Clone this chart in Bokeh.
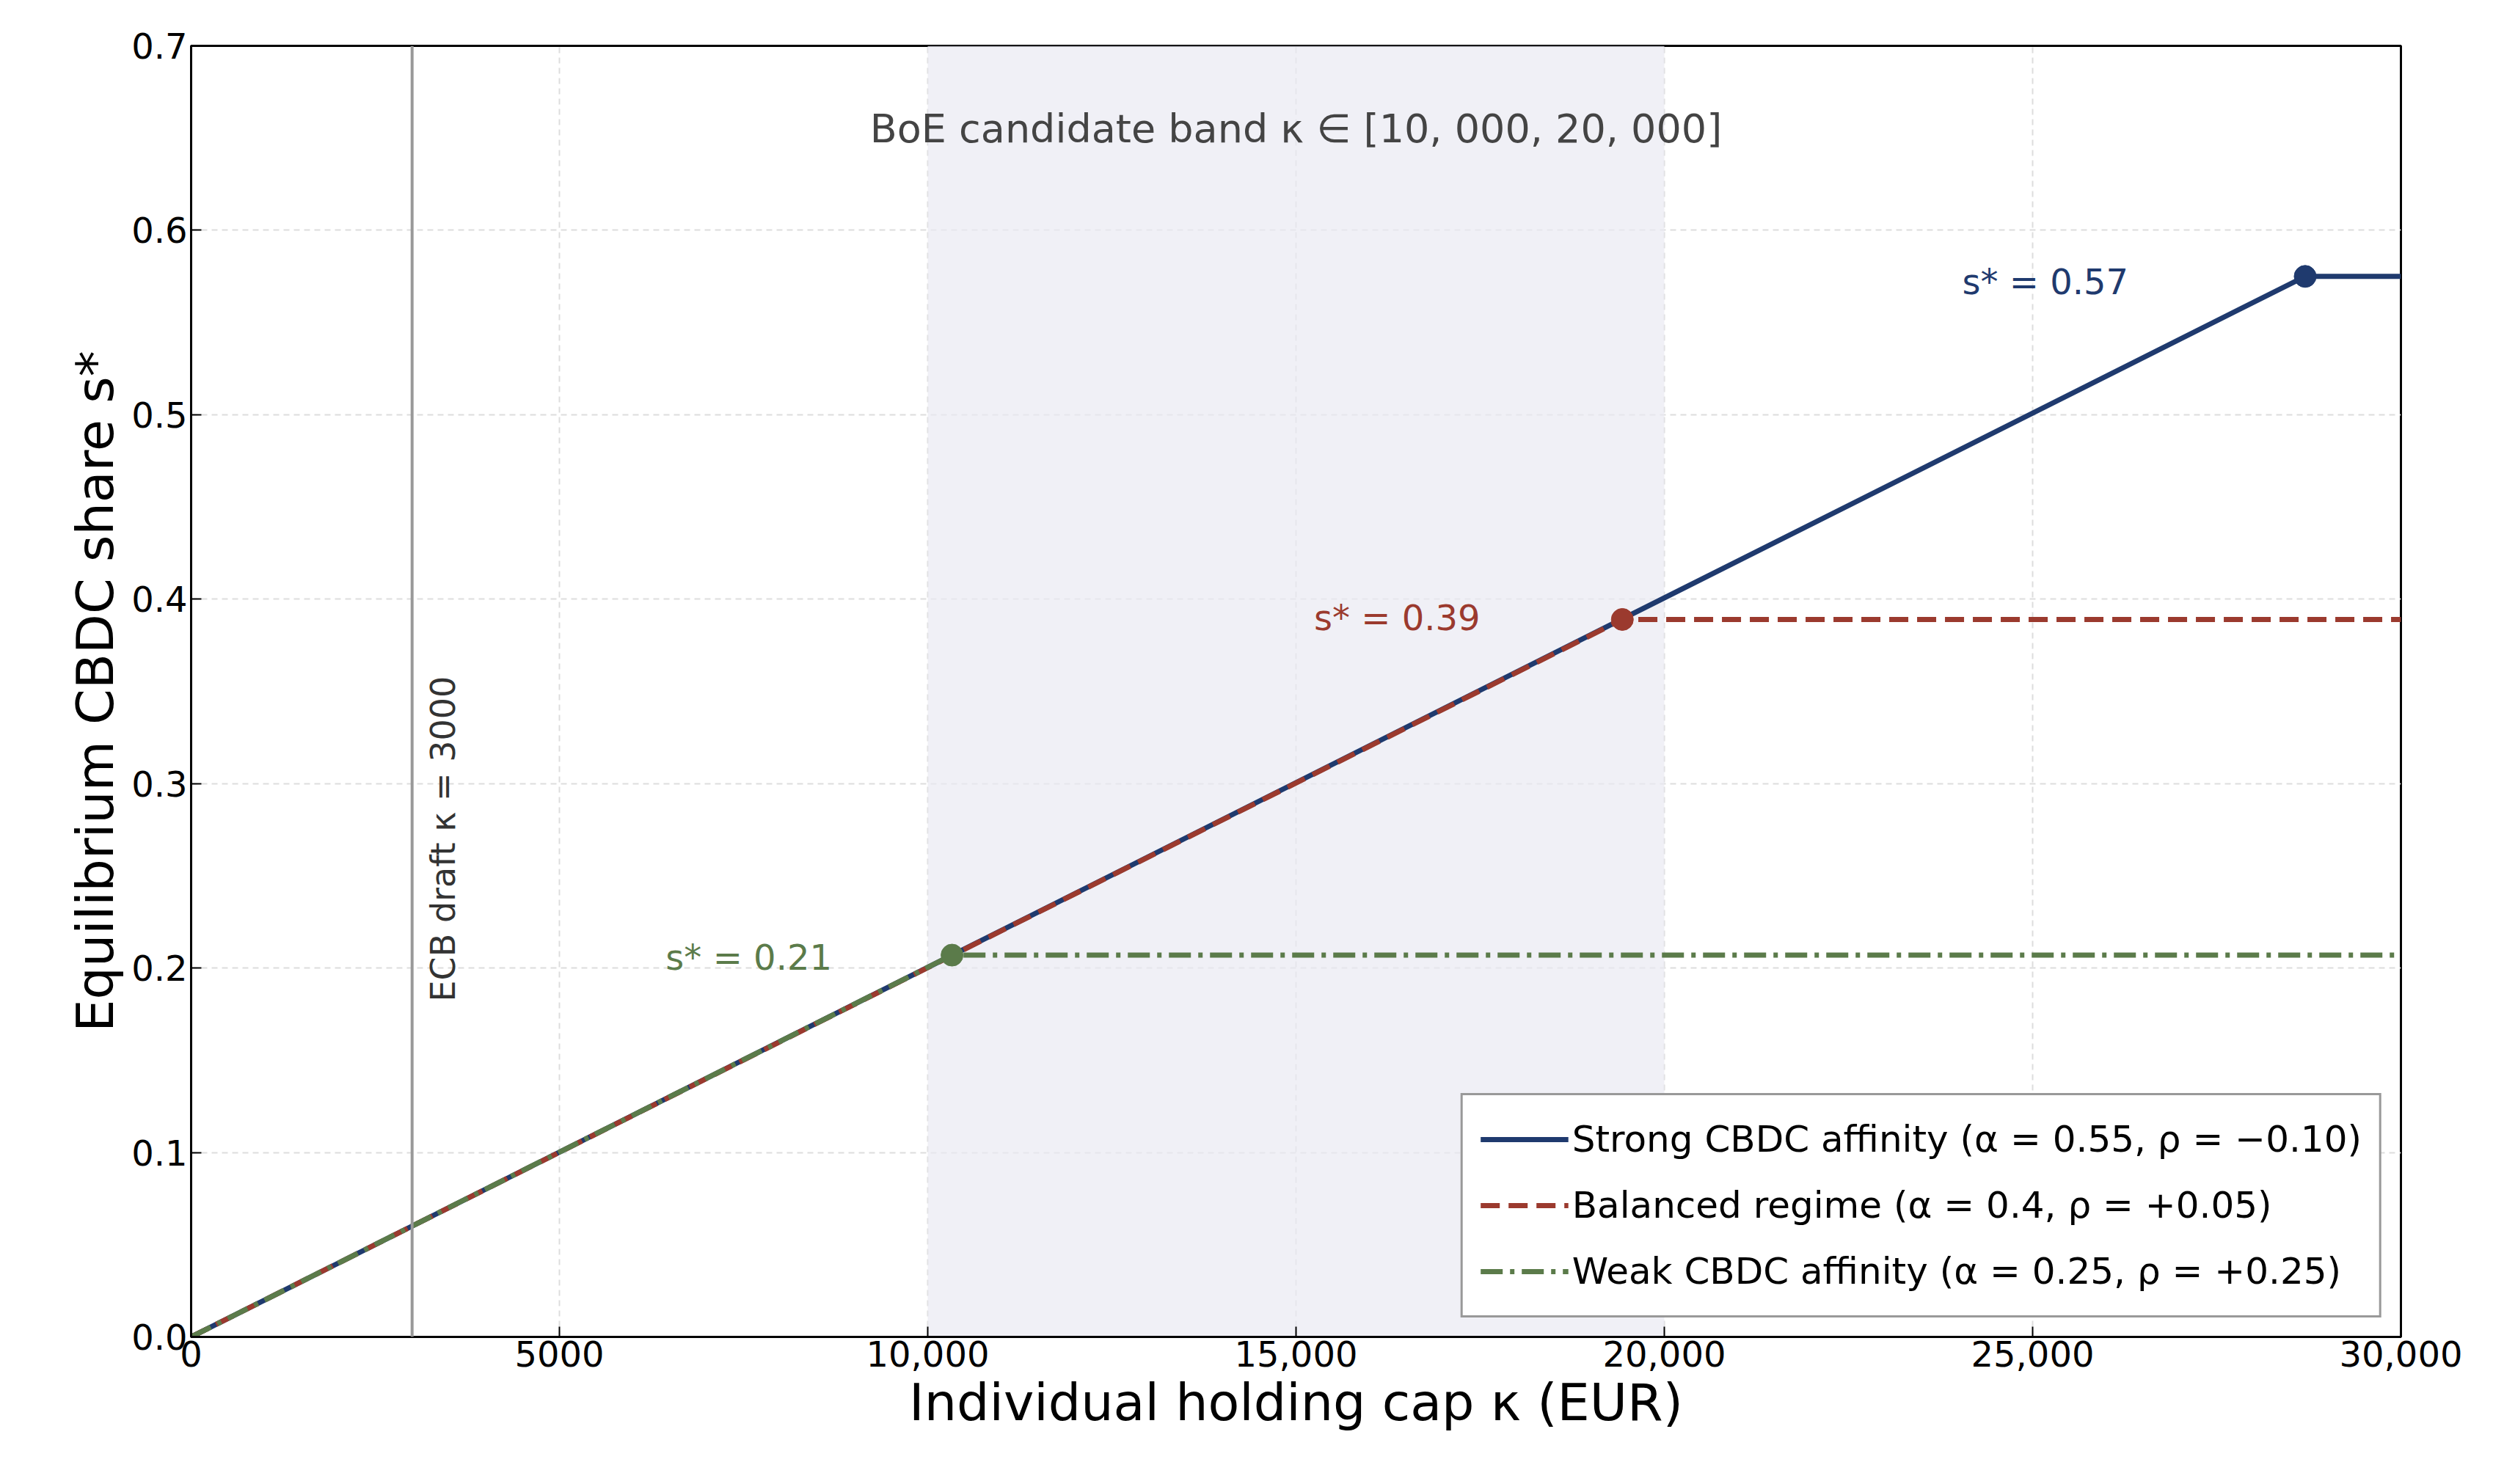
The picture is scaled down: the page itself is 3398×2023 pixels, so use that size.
from bokeh.plotting import figure
from bokeh.models import BoxAnnotation, Span, Label, Legend, LegendItem, FixedTicker
from bokeh.embed import file_html
from bokeh.resources import INLINE

names = ["Strong CBDC affinity (α = 0.55, ρ = −0.10)",
         "Balanced regime (α = 0.4, ρ = +0.05)",
         "Weak CBDC affinity (α = 0.25, ρ = +0.25)"]
caps = [28700, 19430, 10330]
shares = [0.575, 0.389, 0.207]
colors = ["#1f3a6e", "#9b3a2e", "#5b7b4a"]
dashes = ["solid", "26 12", "30 10 6 10"]
ann_labels = ["s* = 0.57", "s* = 0.39", "s* = 0.21"]
ann_x = [26300, 17500, 8700]
ann_y = [0.572, 0.39, 0.206]
x_max = 30000
x_ticks = [0, 5000, 10000, 15000, 20000, 25000, 30000]
x_tick_labels = ["0", "5000", "10,000", "15,000", "20,000", "25,000", "30,000"]
y_ticks = [0.0, 0.1, 0.2, 0.3, 0.4, 0.5, 0.6, 0.7]
ecb_cap = 3000
band = [10000, 20000]

F = "DejaVu Sans"
p = figure(width=3380, height=2005, x_range=(0, 30000), y_range=(0, 0.7),
           output_backend="svg", toolbar_location=None,
           min_border_left=260, min_border_right=108, min_border_top=62, min_border_bottom=183)
p.background_fill_color = "white"
p.outline_line_color = "black"
p.outline_line_width = 3
p.add_layout(BoxAnnotation(left=band[0], right=band[1], fill_color="#e9e9f2", fill_alpha=0.7, line_alpha=0, level="underlay"))
p.add_layout(Span(location=ecb_cap, dimension="height", line_color="#999999", line_width=4))

for ax in (p.xaxis[0], p.yaxis[0]):
    ax.major_tick_in = 14
    ax.major_tick_out = 0
    ax.minor_tick_line_color = None
    ax.axis_line_color = "black"
    ax.axis_line_width = 3
    ax.major_tick_line_width = 2
    ax.major_label_text_font = F
    ax.major_label_text_font_size = "48px"
    ax.major_label_text_color = "black"
    ax.axis_label_text_font = F
    ax.axis_label_text_font_size = "70px"
    ax.axis_label_text_font_style = "normal"
    ax.axis_label_text_color = "black"
p.xaxis.ticker = FixedTicker(ticks=x_ticks)
p.xaxis.major_label_overrides = {t: l for t, l in zip(x_ticks, x_tick_labels)}
p.yaxis.ticker = FixedTicker(ticks=y_ticks)
p.yaxis.formatter.use_scientific = False
p.yaxis.major_label_overrides = {t: f"{t:.1f}" for t in y_ticks}
p.xaxis.axis_label = "Individual holding cap κ (EUR)"
p.yaxis.axis_label = "Equilibrium CBDC share s*"
p.grid.grid_line_color = "#dddddd"
p.grid.grid_line_dash = "8 6"
p.grid.grid_line_width = 2

items = []
for c, s, col, d, nm in zip(caps, shares, colors, dashes, names):
    r = p.line([0, c, x_max], [0, s, s], line_color=col, line_width=7, line_dash=d)
    p.scatter([c], [s], size=30, color=col)
    items.append(LegendItem(label=nm, renderers=[r]))

for t, x, y, col in zip(ann_labels, ann_x, ann_y, colors):
    p.add_layout(Label(x=x, y=y, text=t, text_color=col, text_font=F, text_font_size="48px",
                       text_align="right", text_baseline="middle"))
p.add_layout(Label(x=(band[0] + band[1]) / 2, y=0.655, text="BoE candidate band κ ∈ [10, 000, 20, 000]",
                   text_color="#444444", text_font=F, text_font_size="54px",
                   text_align="center", text_baseline="middle"))
p.add_layout(Label(x=ecb_cap + 420, y=0.27, text="ECB draft κ = 3000", angle=1.5708,
                   text_color="#333333", text_font=F, text_font_size="46px",
                   text_align="center", text_baseline="middle"))

leg = Legend(items=items, location="bottom_right", label_text_font=F, label_text_font_size="50px",
             label_text_color="black",
             border_line_color="#333333", border_line_width=3, background_fill_alpha=1,
             glyph_width=120, label_height=72, spacing=18, padding=24, margin=26)
p.add_layout(leg)

open("out.html", "w").write(file_html(p, INLINE))
